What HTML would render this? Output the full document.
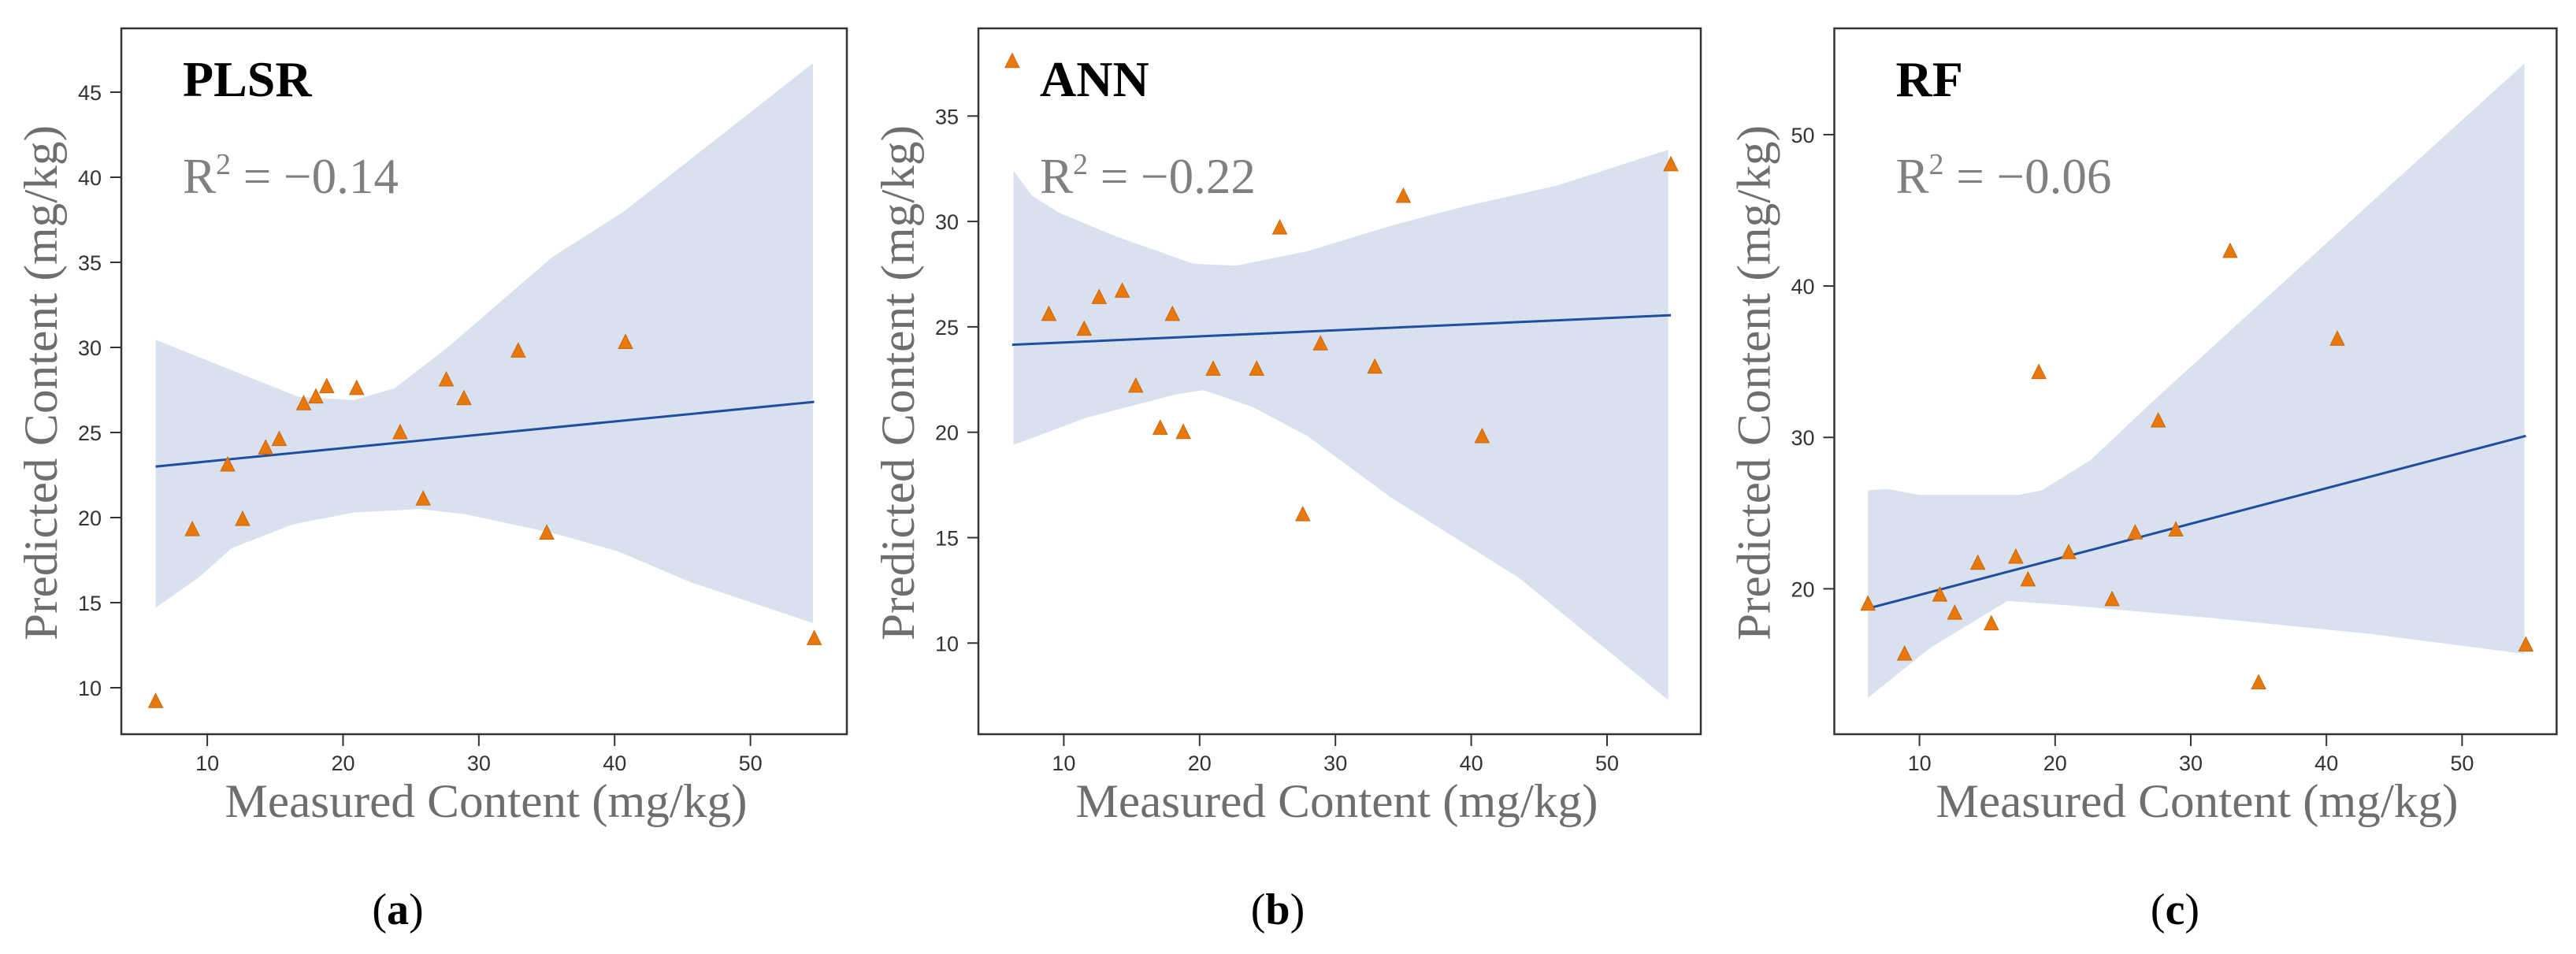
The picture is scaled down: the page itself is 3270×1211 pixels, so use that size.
<!DOCTYPE html>
<html><head><meta charset="utf-8"><title>PLSR / ANN / RF</title>
<style>html,body{margin:0;padding:0;background:#fff;}svg{display:block;}</style>
</head><body>
<svg id="fig" xmlns="http://www.w3.org/2000/svg" width="3270" height="1211" viewBox="0 0 3270 1211"></svg>
<script>
// ----- data -----
const measured = [6.2, 8.9, 11.5, 12.6, 14.3, 15.3, 17.1, 18.0, 18.8, 21.0, 24.2, 25.9, 27.6, 28.9, 32.9, 35.0, 40.8, 54.7];
const plsrPred = [9.2, 19.3, 23.1, 19.9, 24.1, 24.6, 26.7, 27.1, 27.7, 27.6, 25.0, 21.1, 28.1, 27.0, 29.8, 19.1, 30.3, 12.9];
const annPred  = [37.6, 25.6, 24.9, 26.4, 26.7, 22.2, 20.2, 25.6, 20.0, 23.0, 23.0, 29.7, 16.1, 24.2, 23.1, 31.2, 19.8, 32.7];
const rfPred   = [19.0, 15.7, 19.6, 18.4, 21.7, 17.7, 22.1, 20.6, 34.3, 22.4, 19.3, 23.7, 31.1, 23.9, 42.3, 13.8, 36.5, 16.3];
const fitX = [6.2, 54.7];
const plsrFit = [23.0, 26.8];
const annFit = [24.15, 25.55];
const rfFit = [18.7, 30.1];
const plsrUpX = [6.2, 16.7, 20.8, 23.8, 27.7, 35.4, 40.7, 54.6];
const plsrUpY = [30.45, 27.1, 26.9, 27.6, 30.0, 35.3, 38.0, 46.7];
const plsrLoX = [6.2, 9.4, 11.8, 16.3, 20.8, 25.7, 29.0, 35.4, 40.3, 45.6, 54.6];
const plsrLoY = [14.7, 16.5, 18.2, 19.6, 20.3, 20.5, 20.2, 19.1, 18.0, 16.2, 13.8];
const annUpX = [6.3, 7.7, 9.7, 13.8, 19.5, 22.7, 28.0, 34.1, 39.4, 46.3, 54.5];
const annUpY = [32.4, 31.2, 30.4, 29.3, 28.0, 27.9, 28.6, 29.8, 30.7, 31.7, 33.4];
const annLoX = [6.3, 11.7, 18.3, 20.3, 23.9, 28.0, 34.1, 43.5, 54.5];
const annLoY = [19.4, 20.7, 21.8, 22.0, 21.2, 19.8, 16.9, 13.1, 7.3];
const rfUpX = [6.2, 7.6, 10.0, 17.3, 19.0, 22.6, 27.1, 35.3, 43.4, 54.6];
const rfUpY = [26.5, 26.6, 26.2, 26.2, 26.5, 28.5, 32.3, 39.0, 45.6, 54.7];
const rfLoX = [6.2, 10.8, 16.5, 21.0, 31.2, 43.4, 54.6];
const rfLoY = [12.8, 16.1, 19.2, 18.9, 18.1, 17.0, 15.7];
const xTicks = [10, 20, 30, 40, 50];
const plsrYTicks = [10, 15, 20, 25, 30, 35, 40, 45];
const annYTicks = [10, 15, 20, 25, 30, 35];
const rfYTicks = [20, 30, 40, 50];
const titles = ['PLSR', 'ANN', 'RF'];
const r2Values = ['\u22120.14', '\u22120.22', '\u22120.06'];
const panelLetters = ['a', 'b', 'c'];

const NS = 'http://www.w3.org/2000/svg';
const svg = document.getElementById('fig');
function mk(tag, attrs, parent) {
  const e = document.createElementNS(NS, tag);
  for (const k in attrs) e.setAttribute(k, attrs[k]);
  (parent || svg).appendChild(e);
  return e;
}

const panels = [
  {left:154, right:1075, x10:263.1, x50:952.6, yA:45, pA:117, yB:10, pB:873,
   pred:plsrPred, fit:plsrFit, upX:plsrUpX, upY:plsrUpY, loX:plsrLoX, loY:plsrLoY, yt:plsrYTicks, xlab:617, letter:505},
  {left:1242, right:2159, x10:1350.4, x50:2040, yA:35, pA:147.3, yB:10, pB:816.3,
   pred:annPred, fit:annFit, upX:annUpX, upY:annUpY, loX:annLoX, loY:annLoY, yt:annYTicks, xlab:1697, letter:1622},
  {left:2328.5, right:3245.4, x10:2436.6, x50:3125.4, yA:50, pA:170.9, yB:20, pB:747.4,
   pred:rfPred, fit:rfFit, upX:rfUpX, upY:rfUpY, loX:rfLoX, loY:rfLoY, yt:rfYTicks, xlab:2789, letter:2761}
];
const TOP = 36, BOT = 932;

panels.forEach((p, i) => {
  const sx = v => p.x10 + (v - 10) * (p.x50 - p.x10) / 40;
  const sy = v => p.pB + (v - p.yB) * (p.pA - p.pB) / (p.yA - p.yB);
  const g = mk('g', {});
  
  

  let d = '';
  p.upX.forEach((x, k) => { d += (k ? 'L' : 'M') + sx(x).toFixed(1) + ',' + sy(p.upY[k]).toFixed(1); });
  for (let k = p.loX.length - 1; k >= 0; k--) d += 'L' + sx(p.loX[k]).toFixed(1) + ',' + sy(p.loY[k]).toFixed(1);
  d += 'Z';
  const band = mk('path', {d: d, fill: '#d9e1ee', stroke: 'none'}, g);
  
  

  const ln = mk('line', {x1: sx(fitX[0]), y1: sy(p.fit[0]), x2: sx(fitX[1]), y2: sy(p.fit[1]), stroke: '#1f4ea0', 'stroke-width': 3}, g);
  
  

  measured.forEach((x, k) => {
    const cx = sx(x), cy = sy(p.pred[k]);
    const t = mk('polygon', {points: `${cx},${cy - 10} ${cx - 9},${cy + 8} ${cx + 9},${cy + 8}`, fill: '#e8780c', stroke: '#c9680e', 'stroke-width': 1}, g);
    
    
  });

  const fr = mk('rect', {x: p.left, y: TOP, width: p.right - p.left, height: BOT - TOP, fill: 'none', stroke: '#333', 'stroke-width': 2.5}, g);
  
  

  xTicks.forEach(v => {
    const x = sx(v);
    mk('line', {x1: x, y1: BOT, x2: x, y2: BOT + 15, stroke: '#333', 'stroke-width': 2}, g);
    const t = mk('text', {x: x, y: 978, 'text-anchor': 'middle', 'font-family': 'Liberation Sans, sans-serif', 'font-size': 27, fill: '#333'}, g);
    t.textContent = v;
    
    
  });
  p.yt.forEach(v => {
    const y = sy(v);
    mk('line', {x1: p.left - 14, y1: y, x2: p.left, y2: y, stroke: '#333', 'stroke-width': 2}, g);
    const t = mk('text', {x: p.left - 25, y: y + 10, 'text-anchor': 'end', 'font-family': 'Liberation Sans, sans-serif', 'font-size': 27, fill: '#333'}, g);
    t.textContent = v;
    
    
  });

  const ti = mk('text', {x: p.left + 78, y: 122, 'font-family': 'Liberation Serif, serif', 'font-size': 64, 'font-weight': 'bold', fill: '#000'}, g);
  ti.textContent = titles[i];
  
  

  const r = mk('text', {x: p.left + 78, y: 245, 'font-family': 'Liberation Serif, serif', 'font-size': 63, fill: '#808080'}, g);
  r.innerHTML = 'R<tspan dy="-24" font-size="38">2</tspan><tspan dy="24"> = ' + r2Values[i] + '</tspan>';
  
  

  const xl = mk('text', {x: p.xlab, y: 1037, 'text-anchor': 'middle', 'font-family': 'Liberation Serif, serif', 'font-size': 60, fill: '#6e6e6e', textLength: 663, lengthAdjust: 'spacingAndGlyphs'}, g);
  xl.textContent = 'Measured Content (mg/kg)';
  
  

  const yx = p.left - 82, yy = 486;
  const yl = mk('text', {x: yx, y: yy, transform: `rotate(-90 ${yx} ${yy})`, 'text-anchor': 'middle', 'font-family': 'Liberation Serif, serif', 'font-size': 60, fill: '#6e6e6e', textLength: 654, lengthAdjust: 'spacingAndGlyphs'}, g);
  yl.textContent = 'Predicted Content (mg/kg)';
  
  

  const pl = mk('text', {x: p.letter, y: 1173, 'text-anchor': 'middle', 'font-family': 'Liberation Serif, serif', 'font-size': 56, fill: '#000'}, g);
  pl.innerHTML = '(<tspan font-weight="bold">' + panelLetters[i] + '</tspan>)';
  
  
});
</script>
</body></html>
